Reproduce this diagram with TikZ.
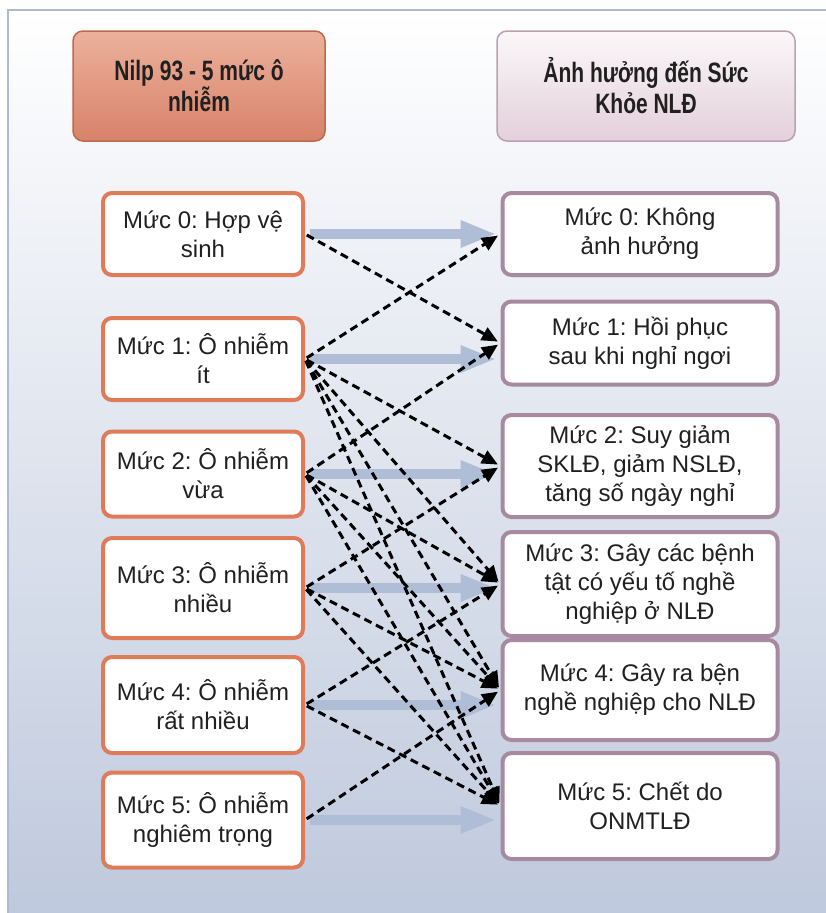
\documentclass[tikz,border=0pt]{standalone}
\usepackage{fontspec}
\setmainfont{Liberation Sans}
\newfontfamily\headfont[FakeStretch=0.75]{Liberation Sans}
\usetikzlibrary{arrows.meta}
\definecolor{lvl-edge}{HTML}{E07B5A}
\definecolor{eff-edge}{HTML}{A88AA0}
\definecolor{head-top}{HTML}{ECB19B}
\definecolor{head-bot}{HTML}{D8826A}
\definecolor{eff-top}{HTML}{FBF7F9}
\definecolor{eff-bot}{HTML}{E3D0DA}
\definecolor{bg-bot}{HTML}{BFC9DD}
\definecolor{bg-line}{HTML}{AEB9D2}
\definecolor{flow}{HTML}{B0BDD7}
\definecolor{txt}{HTML}{202020}
\frenchspacing

\begin{document}
\begin{tikzpicture}[x=1pt,y=-1pt,
  lvlbox/.style={draw=lvl-edge,line width=4pt,fill=white,rounded corners=9pt,
    minimum width=200pt,inner sep=0pt,align=center,text=txt,
    font=\fontsize{24}{29}\selectfont},
  effbox/.style={lvlbox,draw=eff-edge,minimum width=275pt},
  headbox/.style={rounded corners=10pt,inner sep=0pt,align=center,text=txt,
    minimum height=110pt,font=\headfont\bfseries\fontsize{28}{31}\selectfont},
  flowarr/.style={flow,line width=10pt,-{Triangle[length=36pt,width=25pt]},
    shorten <=5pt,shorten >=4pt},
  dasharr/.style={black,line width=3pt,dash pattern=on 8pt off 5pt,
    -{Triangle[length=16pt,width=14pt]},shorten <=2pt,shorten >=3pt}]
  \useasboundingbox (0,0) rectangle (826,913);
  % panel
  \shade[top color=white,bottom color=bg-bot] (8,10) rectangle (826,913);
  \draw[bg-line,line width=1.2pt] (8,913) -- (8,10) -- (826,10);

  % headers
  \node[headbox,draw=lvl-edge!85!black,line width=1.5pt,top color=head-top,bottom color=head-bot,
    minimum width=252pt] (hl) at (199,86) {Nilp 93 - 5 mức ô\\nhiễm};
  \node[headbox,draw=eff-edge!80,line width=1.5pt,top color=eff-top,bottom color=eff-bot,
    minimum width=298pt] (hr) at (646,86) {Ảnh hưởng đến Sức\\Khỏe NLĐ};

  % pollution levels
  \node[lvlbox,minimum height=82pt] (L0) at (203,234) {Mức 0: Hợp vệ\\sinh};
  \node[lvlbox,minimum height=82pt] (L1) at (203,359) {Mức 1: Ô nhiễm\\ít};
  \node[lvlbox,minimum height=85pt] (L2) at (203,474) {Mức 2: Ô nhiễm\\vừa};
  \node[lvlbox,minimum height=100pt] (L3) at (203,588) {Mức 3: Ô nhiễm\\nhiều};
  \node[lvlbox,minimum height=96pt] (L4) at (203,705) {Mức 4: Ô nhiễm\\rất nhiều};
  \node[lvlbox,minimum height=95pt] (L5) at (203,820) {Mức 5: Ô nhiễm\\nghiêm trọng};

  % health effects
  \node[effbox,minimum height=82pt] (R0) at (640,234) {Mức 0: Không\\ảnh hưởng};
  \node[effbox,minimum height=83pt] (R1) at (640,343) {Mức 1: Hồi phục\\sau khi nghỉ ngơi};
  \node[effbox,minimum height=102pt] (R2) at (640,466) {Mức 2: Suy giảm\\SKLĐ, giảm NSLĐ,\\tăng số ngày nghỉ};
  \node[effbox,minimum height=104pt] (R3) at (640,584) {Mức 3: Gây các bệnh\\tật có yếu tố nghề\\nghiệp ở NLĐ};
  \node[effbox,minimum height=100pt] (R4) at (640,690) {Mức 4: Gây ra bện\\nghề nghiệp cho NLĐ};
  \node[effbox,minimum height=106pt] (R5) at (640,806) {Mức 5: Chết do\\ONMTLĐ};

  % main links
  \foreach \i in {0,...,5}
    \draw[flowarr] (L\i.east) -- (L\i.east -| R\i.west);
  % other links
  \foreach \a/\b in {0/1,1/0,1/2,1/3,1/4,1/5,2/1,2/3,2/4,2/5,3/2,3/4,3/5,4/3,4/5,5/4}
    \draw[dasharr] (L\a.east) -- (R\b.west);
\end{tikzpicture}
\end{document}
